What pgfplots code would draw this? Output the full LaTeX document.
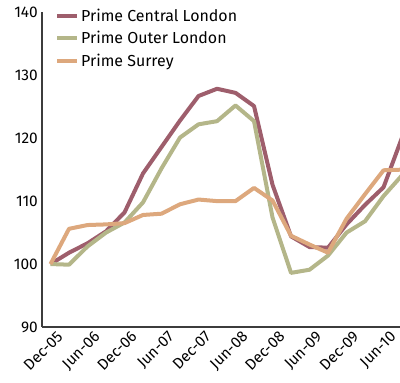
\documentclass[border=0pt]{standalone}
\usepackage{pgfplots}
\pgfplotsset{compat=1.18}
\usepackage{fontspec}
\setmainfont{Fira Sans}
\definecolor{cen}{RGB}{158,94,108}
\definecolor{outl}{RGB}{180,182,137}
\definecolor{sur}{RGB}{221,168,125}
\definecolor{axc}{RGB}{60,60,60}
\begin{document}
\begin{tikzpicture}
\begin{axis}[
  scale only axis, width=358bp, height=314.7bp,
  xmin=-0.46, xmax=18.89, ymin=90, ymax=140,
  axis x line*=bottom, axis y line*=left,
  axis line style={-, axc, line width=1.3bp},
  xtick={0,2,...,18},
  xticklabels={Dec-05,Jun-06,Dec-06,Jun-07,Dec-07,Jun-08,Dec-08,Jun-09,Dec-09,Jun-10},
  ytick={90,100,...,140},
  major tick length=0,
  /pgf/number format/assume math mode=true,
  tick label style={font=\fontsize{15.5}{18}\selectfont, text=black},
  x tick label style={rotate=45, anchor=north east, inner sep=2bp, xshift=4bp, yshift=-4bp},
  y tick label style={inner sep=2bp, xshift=-2bp},
  legend style={draw=none, fill=none, at={(axis description cs:0.028,1.025)}, anchor=north west,
    font=\fontsize{16}{19}\selectfont, row sep=5bp},
  legend cell align=left,
  legend image code/.code={\draw[#1] (0bp,0bp) -- (20bp,0bp);},
  every axis plot/.append style={line width=4bp, line join=round},
]
\addplot[cen] coordinates {(0,100) (1,101.8) (2,103.3) (3,105.2) (4,108.2) (5,114.4) (6,118.6) (7,122.8) (8,126.7) (9,127.85) (10,127.2) (11,125.1) (12,112.6) (13,104.4) (14,102.7) (15,102.6) (16,106.3) (17,109.4) (18,112.2) (19,120.1)};
\addlegendentry{Prime Central London}
\addplot[outl] coordinates {(0,100) (1,99.9) (2,102.8) (3,105.0) (4,106.6) (5,109.8) (6,115.2) (7,120.1) (8,122.2) (9,122.7) (10,125.2) (11,122.7) (12,107.4) (13,98.6) (14,99.1) (15,101.35) (16,105.0) (17,106.8) (18,110.8) (19,114.1)};
\addlegendentry{Prime Outer London}
\addplot[sur] coordinates {(0,100) (1,105.6) (2,106.2) (3,106.3) (4,106.5) (5,107.8) (6,108.0) (7,109.5) (8,110.25) (9,110.0) (10,110.0) (11,112.1) (12,110.1) (13,104.5) (14,103.1) (15,101.8) (16,107.2) (17,111.1) (18,114.9) (19,115.0)};
\addlegendentry{Prime Surrey}
\coordinate (bl) at (rel axis cs:0,0);
\coordinate (tr) at (rel axis cs:1,1);
\end{axis}
\pgfresetboundingbox
\path ([xshift=-42bp,yshift=-56bp]bl) rectangle ([yshift=12.3bp]tr);
\end{tikzpicture}
\end{document}
